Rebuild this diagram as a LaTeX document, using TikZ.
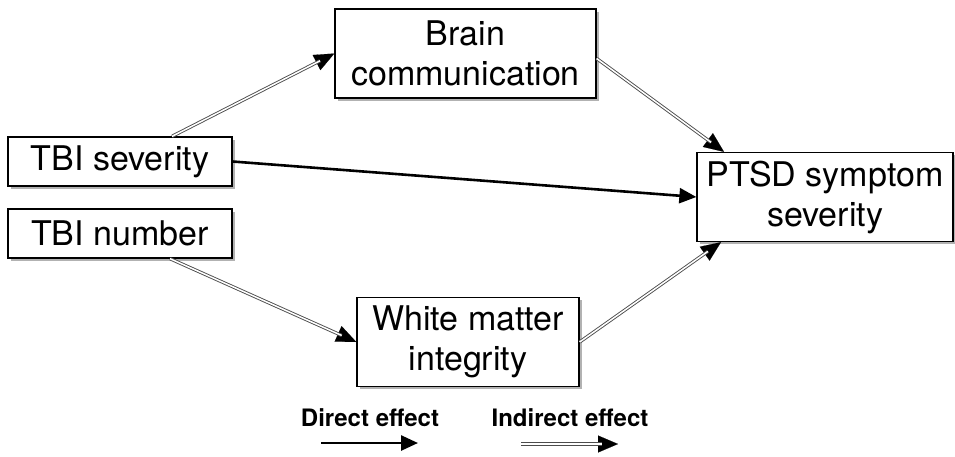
\documentclass[tikz,border=0pt]{standalone}
\usepackage{fontspec}
\setmainfont{TeX Gyre Heros}
\usetikzlibrary{arrows.meta,shadows,calc}
\tikzset{
  box/.style={draw=black, line width=1.3pt, fill=white, inner sep=0pt, align=center,
    font=\fontsize{34}{40}\selectfont,
    drop shadow={shadow xshift=2.5pt, shadow yshift=-2.5pt, fill=black, opacity=0.3}},
  tipline/.style={line width=0.1pt, -{Triangle[length=20pt,width=17pt]}},
  dbl/.style={draw=gray!60!black, double=white, double distance=1.5pt, line width=0.9pt, shorten >=16pt},
  direct/.style={line width=2.6pt, -{Triangle[length=17pt,width=15pt]}},
  legend/.style={font=\fontsize{24}{28}\selectfont\bfseries, inner sep=0pt}
}
\begin{document}
\begin{tikzpicture}[x=1pt,y=-1pt]
\useasboundingbox (0,0) rectangle (955,456);
\node[box, minimum width=261pt, minimum height=89pt] (brain) at (465.5,53.5) {Brain\\communication};
\node[box, minimum width=224pt, minimum height=49pt] (sev) at (120,161.5) {TBI severity};
\node[box, minimum width=224pt, minimum height=49pt] (num) at (120,233.5) {TBI number};
\node[box, minimum width=256pt, minimum height=89pt] (ptsd) at (825,197) {PTSD symptom\\severity};
\node[box, minimum width=222pt, minimum height=89pt] (wm) at (468,342) {White matter\\integrity};

\coordinate (s1) at ([xshift=52pt]sev.north);
\coordinate (b1) at ([yshift=-5pt]brain.east);
\coordinate (p1) at ([xshift=-101pt]ptsd.north);
\coordinate (n1) at ([xshift=50pt]num.south);
\coordinate (p2) at ([xshift=-104pt]ptsd.south);

\draw[tipline] (s1) -- (brain.west);
\draw[dbl] (s1) -- (brain.west);
\draw[tipline] (b1) -- (p1);
\draw[dbl] (b1) -- (p1);
\draw[tipline] (n1) -- (wm.west);
\draw[dbl] (n1) -- (wm.west);
\draw[tipline] (wm.east) -- (p2);
\draw[dbl] (wm.east) -- (p2);
\draw[direct] (sev.east) -- (ptsd.west);

\node[legend, anchor=base] (ld) at (370,426.5) {Direct effect};
\node[legend, anchor=base] (li) at (570,426.5) {Indirect effect};
\coordinate (d0) at (321,443);
\coordinate (d1) at (418,443);
\coordinate (i0) at (521,444);
\coordinate (i1) at (618,444);
\draw[direct] (d0) -- (d1);
\draw[tipline] (i0) -- (i1);
\draw[dbl] (i0) -- (i1);
\end{tikzpicture}
\end{document}
